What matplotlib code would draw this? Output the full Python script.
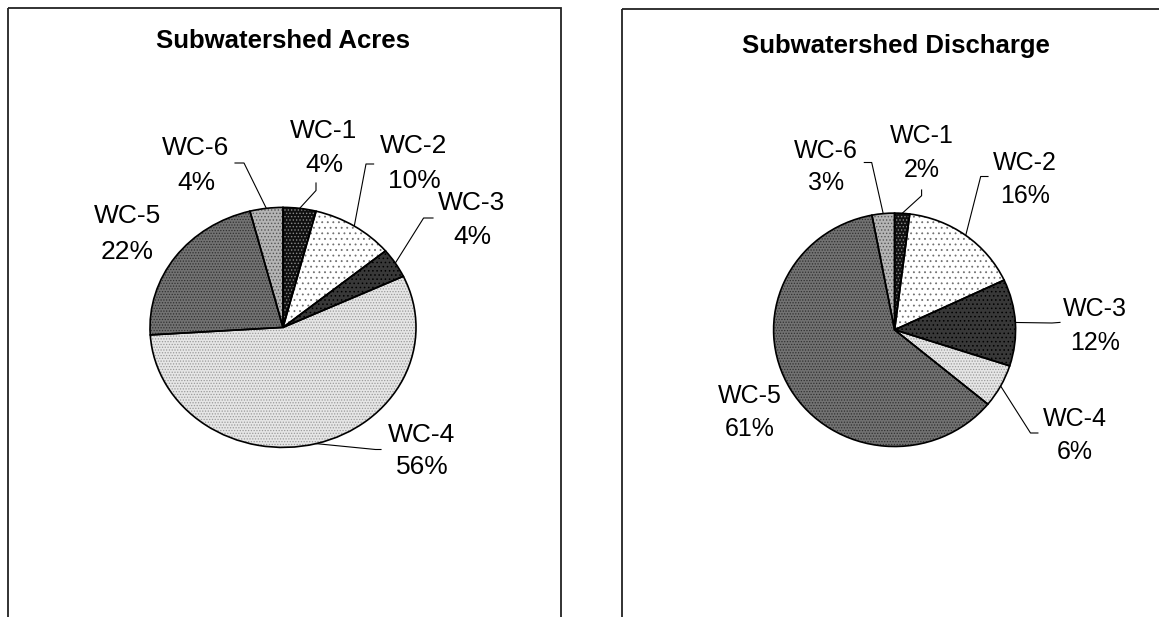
import numpy as np
import matplotlib
matplotlib.use("Agg")
import matplotlib.pyplot as plt
from matplotlib.patches import Rectangle

plt.rcParams['font.family'] = ['Liberation Sans', 'DejaVu Sans']
plt.rcParams['hatch.linewidth'] = 0.6

# Данные
categories = ['WC-1', 'WC-2', 'WC-3', 'WC-4', 'WC-5', 'WC-6']
acres_pct = [4, 10, 4, 56, 22, 4]
discharge_pct = [2, 16, 12, 6, 61, 3]

# Оформление секторов (заливка, штриховка, цвет штриховки)
faces = ['#101010', '#ffffff', '#383838', '#e6e6e6', '#727272', '#b4b4b4']
hatches = ['.....', '...', '....', '......', '......', '.....']
hatch_cols = ['#8a8a8a', '#707070', '#000000', '#9a9a9a', '#303030', '#555555']

W, H = 1159, 617
fig = plt.figure(figsize=(W / 100, H / 100), dpi=100)

ov = fig.add_axes([0, 0, 1, 1])
ov.set_xlim(0, W)
ov.set_ylim(H, 0)
ov.axis('off')

# рамки
ov.add_patch(Rectangle((8, 7.5), 553, 700, fill=False, edgecolor='#222222', lw=1.3))
ov.add_patch(Rectangle((622, 8.5), 700, 700, fill=False, edgecolor='#222222', lw=1.3))


def draw_pie(values, title, title_xy, center, rx, ry, label_pos, leaders, fs):
    cx, cy = center
    ax = fig.add_axes([(cx - rx) / W, (H - cy - ry) / H, 2 * rx / W, 2 * ry / H])
    wedges, _ = ax.pie(values, colors=faces, startangle=90, counterclock=False,
                       wedgeprops=dict(linewidth=0))
    for w, h, hc in zip(wedges, hatches, hatch_cols):
        w.set_hatch(h)
        w.set_edgecolor(hc)
    ax.pie(values, colors=['none'] * len(values), startangle=90, counterclock=False,
           wedgeprops=dict(edgecolor='black', linewidth=1.2, fill=False))
    ax.set_aspect('auto')
    ax.set_xlim(-1, 1)
    ax.set_ylim(-1, 1)
    ax.axis('off')

    ov.text(title_xy[0], title_xy[1], title, ha='center', va='center',
            fontsize=18.5, fontweight='bold')

    for i, (name, v) in enumerate(zip(categories, values)):
        x, y1, y2 = label_pos[i]
        ov.text(x, y1, name, ha='center', va='center', fontsize=fs)
        ov.text(x, y2, f'{v}%', ha='center', va='center', fontsize=fs)
        if leaders[i] is None:
            continue
        w = wedges[i]
        mid = np.deg2rad((w.theta1 + w.theta2) / 2)
        pt = ax.transData.transform((np.cos(mid), np.sin(mid)))
        ex, ey = ov.transData.inverted().transform(pt)
        (sx, sy), (kx, ky) = leaders[i]
        ov.plot([sx, kx, ex], [sy, ky, ey], color='black', lw=0.8)


draw_pie(acres_pct, 'Subwatershed Acres', (283, 41), (283, 327.4), 133, 120,
         [(324, 131, 165), (414, 146, 181), (472, 203.5, 237),
          (422, 434.7, 467), (127.6, 216, 251.6), (196, 148, 183)],
         [((316, 183), (316, 190.5)), ((373.6, 164), (366, 164)),
          ((433, 218), (423.6, 218)), ((381, 449.5), (375.5, 449.5)),
          None, ((235, 163), (244, 163))], 19)

draw_pie(discharge_pct, 'Subwatershed Discharge', (895.7, 46), (894.6, 329.8), 121, 116.7,
         [(921.6, 135.9, 169.9), (1025, 162.5, 195.7), (1095, 309.5, 343.4),
          (1074.8, 419, 452.4), (749.9, 396, 429.5), (825.6, 150.7, 182.8)],
         [((921.6, 190), (921.6, 195.7)), ((988, 176.5), (980.7, 176.5)),
          ((1060, 322.4), (1052, 323)), ((1037.9, 433), (1030.5, 433)),
          None, ((864.3, 162.5), (871.7, 162.5))], 18)

fig.savefig('out.png', dpi=100)
